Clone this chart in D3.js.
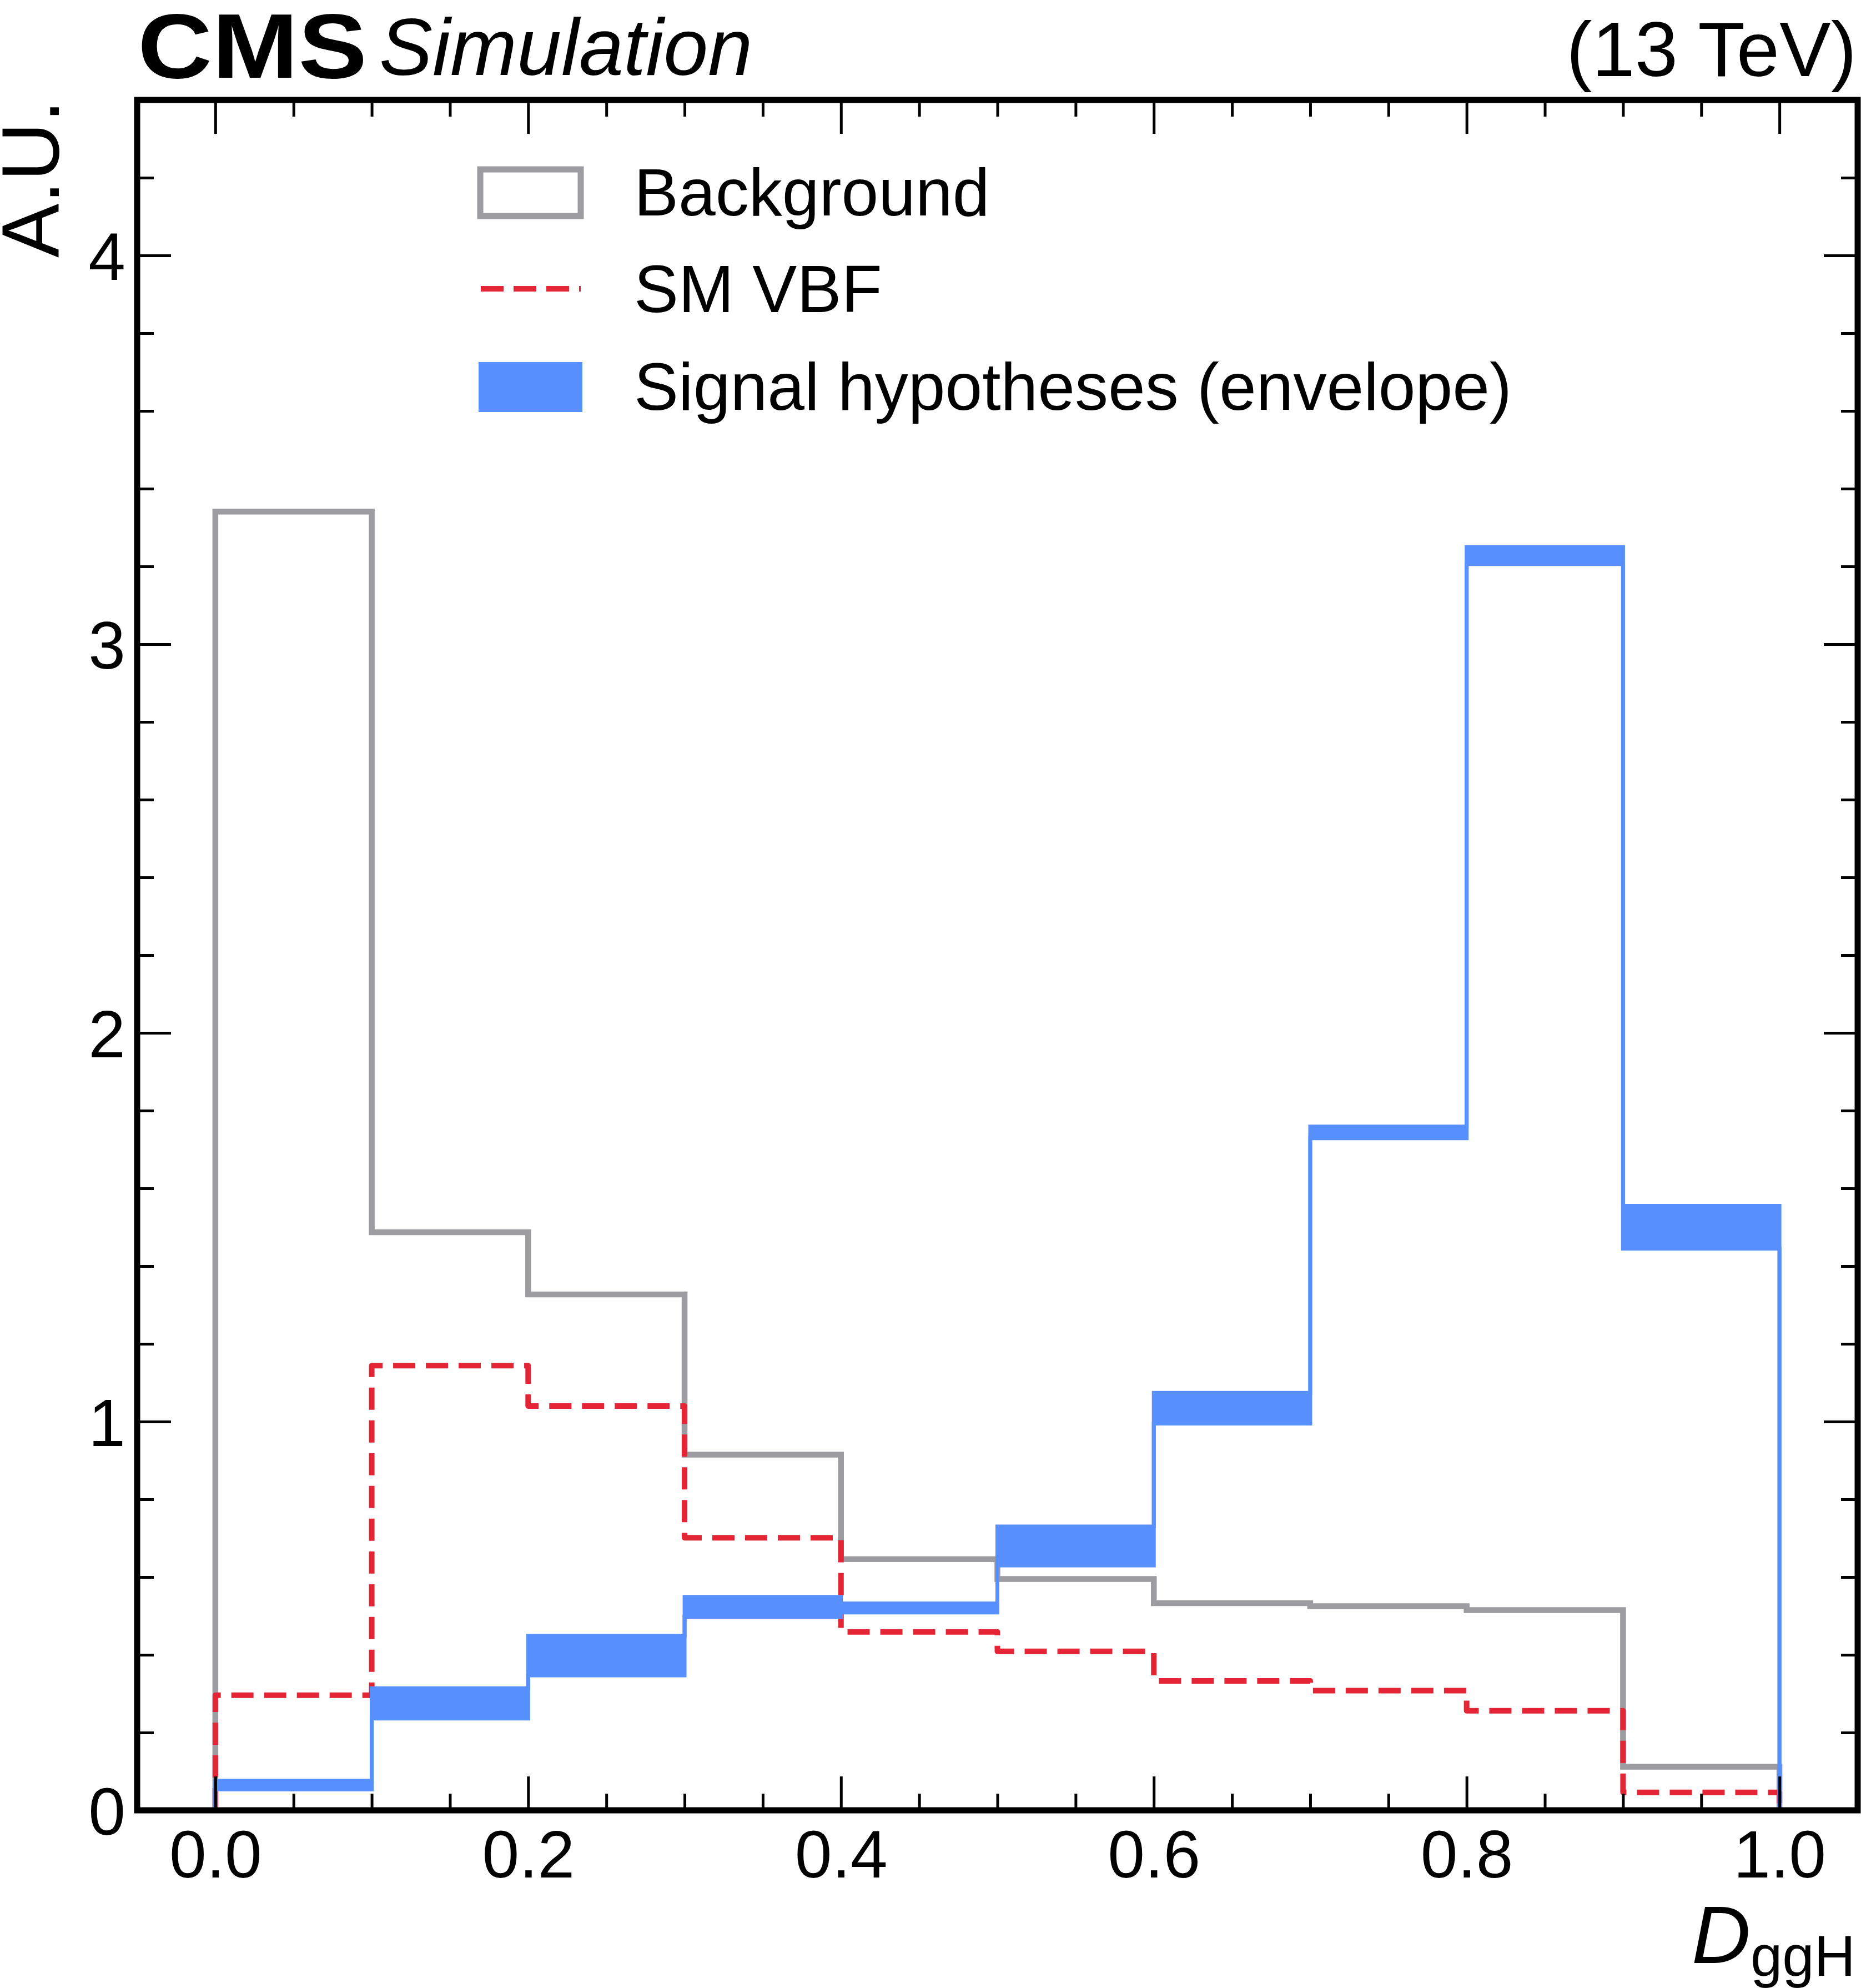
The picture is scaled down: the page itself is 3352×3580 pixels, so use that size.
<!DOCTYPE html>
<html>
<head>
<meta charset="utf-8">
<script src="https://cdn.jsdelivr.net/npm/d3@7"></script>
<style>
  body { margin: 0; background: #fff; }
  text { font-family: "Liberation Sans", Arial, Helvetica, sans-serif; fill: #000; }
</style>
</head>
<body>
<svg id="chart"></svg>
<script>
// bin edges of D_ggH
var binEdges   = [0.0, 0.1, 0.2, 0.3, 0.4, 0.5, 0.6, 0.7, 0.8, 0.9, 1.0];
// normalised histograms, one value per bin
var background = [3.341, 1.487, 1.327, 0.915, 0.646, 0.595, 0.533, 0.525, 0.515, 0.112];
var smVBF      = [0.296, 1.144, 1.040, 0.701, 0.459, 0.409, 0.333, 0.308, 0.256, 0.046];
var signalLow  = [0.054, 0.236, 0.347, 0.498, 0.509, 0.630, 0.995, 1.729, 3.206, 1.445];
var signalHigh = [0.076, 0.314, 0.449, 0.549, 0.532, 0.730, 1.074, 1.759, 3.250, 1.555];

var xMajor = [0.0, 0.2, 0.4, 0.6, 0.8, 1.0];
var yMajor = [0, 1, 2, 3, 4];
var legendLabels = ["Background", "SM VBF", "Signal hypotheses (envelope)"];

var width  = 3352,
    height = 3580;

var gray = "#9c9ca1",
    red  = "#e42536",
    blue = "#5790fc";

var svg = d3.select("#chart")
    .attr("width", width)
    .attr("height", height);

var x = d3.scaleLinear().domain([-0.05, 1.05]).range([247, 3346]);
var y = d3.scaleLinear().domain([0, 4.4]).range([3260, 180]);

// turn per-bin values into step points, closed down to zero at both ends
function steps(vals) {
    var pts = [[binEdges[0], 0]];
    vals.forEach(function(v, i) { pts.push([binEdges[i], v]); });
    pts.push([binEdges[binEdges.length - 1], vals[vals.length - 1]]);
    pts.push([binEdges[binEdges.length - 1], 0]);
    return pts;
}

var stepLine = d3.line()
    .x(function(d) { return x(d[0]); })
    .y(function(d) { return y(d[1]); })
    .curve(d3.curveStepAfter);

var band = binEdges.map(function(e, i) {
    var k = Math.min(i, signalLow.length - 1);
    return { x: e, lo: signalLow[k], hi: signalHigh[k] };
});

var bandArea = d3.area()
    .x(function(d) { return x(d.x); })
    .y0(function(d) { return y(d.lo); })
    .y1(function(d) { return y(d.hi); })
    .curve(d3.curveStepAfter);

// background
svg.append("path")
    .attr("d", stepLine(steps(background)))
    .attr("fill", "none")
    .attr("stroke", gray)
    .attr("stroke-width", 10.5);

// SM VBF
svg.append("path")
    .attr("d", stepLine(steps(smVBF)))
    .attr("fill", "none")
    .attr("stroke", red)
    .attr("stroke-width", 10)
    .attr("stroke-dasharray", "40,19")
    .attr("stroke-linejoin", "round");

// signal envelope
svg.append("path")
    .attr("d", bandArea(band))
    .attr("fill", blue);

[signalLow, signalHigh].forEach(function(vals) {
    svg.append("path")
        .attr("d", stepLine(steps(vals)))
        .attr("fill", "none")
        .attr("stroke", blue)
        .attr("stroke-width", 7);
});

// ticks on all four sides, pointing inwards
var xMinor = d3.range(0, 21).map(function(i) { return i * 0.05; })
    .filter(function(v) { return Math.round(v * 100) % 20 !== 0; });
var yMinor = d3.range(0, 22).map(function(i) { return i * 0.2; })
    .filter(function(v) { return Math.round(v * 10) % 10 !== 0; });

function drawAxis(axis, tx, ty) {
    var g = svg.append("g")
        .attr("transform", "translate(" + tx + "," + ty + ")")
        .call(axis);
    g.select(".domain").remove();
    g.selectAll(".tick line").attr("stroke-width", 5);
    return g;
}

var gx = drawAxis(d3.axisBottom(x).tickValues(xMajor).tickSize(-61).tickPadding(36)
    .tickFormat(d3.format(".1f")), 0, 3260);
drawAxis(d3.axisBottom(x).tickValues(xMinor).tickSize(-30).tickFormat(""), 0, 3260);
drawAxis(d3.axisTop(x).tickValues(xMajor).tickSize(-61).tickFormat(""), 0, 180);
drawAxis(d3.axisTop(x).tickValues(xMinor).tickSize(-30).tickFormat(""), 0, 180);

var gy = drawAxis(d3.axisLeft(y).tickValues(yMajor).tickSize(-61).tickPadding(21)
    .tickFormat(d3.format("d")), 247, 0);
drawAxis(d3.axisLeft(y).tickValues(yMinor).tickSize(-30).tickFormat(""), 247, 0);
drawAxis(d3.axisRight(y).tickValues(yMajor).tickSize(-61).tickFormat(""), 3346, 0);
drawAxis(d3.axisRight(y).tickValues(yMinor).tickSize(-30).tickFormat(""), 3346, 0);

gx.selectAll("text").attr("font-size", 120).attr("font-family", null);
gy.selectAll("text").attr("font-size", 120).attr("font-family", null).attr("dy", "0.36em");

// frame
svg.append("rect")
    .attr("x", 247).attr("y", 180)
    .attr("width", 3346 - 247).attr("height", 3260 - 180)
    .attr("fill", "none")
    .attr("stroke", "#000")
    .attr("stroke-width", 11);

// axis titles
svg.append("text")
    .attr("transform", "translate(106,180) rotate(-90)")
    .attr("text-anchor", "end")
    .attr("font-size", 146)
    .text("A.U.");

var xt = svg.append("text")
    .attr("x", 3342).attr("y", 3535)
    .attr("text-anchor", "end")
    .attr("font-size", 147);
xt.append("tspan").attr("font-style", "italic").text("D");
xt.append("tspan").attr("font-size", 103).attr("dy", 23).text("ggH");

// header
svg.append("text")
    .attr("transform", "translate(248,140) scale(1.12,1)")
    .attr("font-size", 166)
    .attr("font-weight", "bold")
    .text("CMS");

svg.append("text")
    .attr("x", 683).attr("y", 135)
    .attr("font-size", 144)
    .attr("font-style", "italic")
    .text("Simulation");

svg.append("text")
    .attr("x", 3344).attr("y", 137)
    .attr("text-anchor", "end")
    .attr("font-size", 139)
    .text("(13 TeV)");

// legend
var leg = svg.append("g");
leg.append("rect")
    .attr("x", 865).attr("y", 305).attr("width", 181).attr("height", 84)
    .attr("fill", "none").attr("stroke", gray).attr("stroke-width", 11);
leg.append("line")
    .attr("x1", 866).attr("x2", 1046).attr("y1", 520).attr("y2", 520)
    .attr("stroke", red).attr("stroke-width", 10).attr("stroke-dasharray", "41,18");
leg.append("rect")
    .attr("x", 862).attr("y", 652).attr("width", 187).attr("height", 90)
    .attr("fill", blue);

var legBase = [388, 562, 738];
leg.selectAll(".leg-label")
    .data(legendLabels)
  .enter().append("text")
    .attr("class", "leg-label")
    .attr("x", 1142)
    .attr("y", function(d, i) { return legBase[i]; })
    .attr("font-size", 120)
    .text(function(d) { return d; });
</script>
</body>
</html>
